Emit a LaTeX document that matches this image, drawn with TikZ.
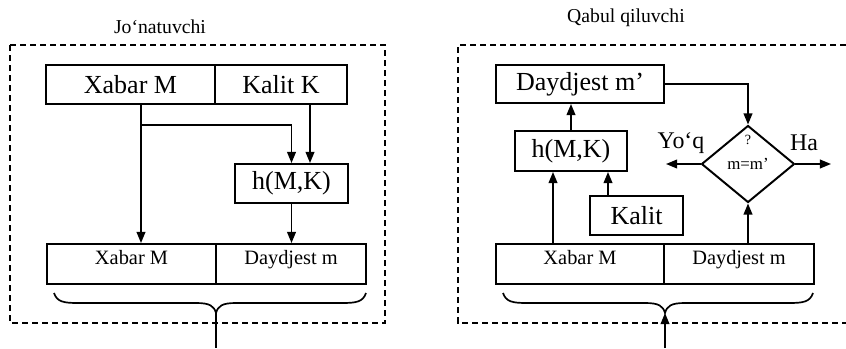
\documentclass[tikz,border=0pt]{standalone}
\usepackage{fontspec}
\setmainfont{Liberation Serif}
\usetikzlibrary{arrows.meta}
\usetikzlibrary{shapes.geometric}
\usetikzlibrary{positioning}

\begin{document}
\begin{tikzpicture}[%
x=0.025cm, y=-0.025cm,
>={Triangle[length=0.28cm, width=0.22cm]},
blok/.style 2 args={draw, line width=1.4pt, inner sep=0, minimum width=#1*0.025cm, minimum height=#2*0.025cm, font=\fontsize{18.5}{20}\selectfont},
pastblok/.style 2 args={blok={#1}{#2}, font=\fontsize{14.5}{16}\selectfont, text height=0.3cm, text depth=0.3cm},
oqim/.style={->, line width=1.2pt},
chegara/.style={dash pattern=on 0.15cm off 0.1cm, line width=1.1pt},
qavs/.style={line width=1.2pt},
sarlavha/.style={font=\fontsize{14}{16}\selectfont},
yozuv/.style={font=\fontsize{17}{19}\selectfont},
]
\useasboundingbox (0,0) rectangle (846,348);

\pgfmathsetmacro{\qavsy}{303}
\pgfmathsetmacro{\qavsuch}{293}

% Jo'natuvchi
\node[sarlavha](jsarl) at (160,27){Jo‘natuvchi};
\draw[chegara] (10,45) rectangle (385,323);

\node[blok={169}{39}](jxab) at (130.5,84.5){Xabar M};
\node[blok={132}{39}](jkal) at (281,84.5){Kalit K};
\node[blok={113}{39}](jhash) at (291.5,183.5){h(M,K)};
\node[pastblok={169}{40}](jbxab) at (131.5,264){Xabar M};
\node[pastblok={150}{40}](jbday) at (291,264){Daydjest m};

\coordinate(jtarm) at (141,125);
\coordinate(jkx) at (310,0);
\draw[oqim] (jxab.south -| jtarm)--(jbxab.north -| jtarm);
\draw[oqim] (jtarm) -| (jhash.north);
\draw[oqim] (jkal.south -| jkx)--(jhash.north -| jkx);
\draw[oqim] (jhash.south)--(jhash.south |- jbday.north);

\coordinate(juch) at (216,313);
\coordinate(jpast) at (216,348);
\draw[qavs] (54,\qavsuch) .. controls (57,\qavsy-1) and (64,\qavsy) .. (78,\qavsy) -- (196,\qavsy)
  .. controls (210,\qavsy) and (214,\qavsy+3) .. (juch)
  .. controls (218,\qavsy+3) and (222,\qavsy) .. (236,\qavsy) -- (342,\qavsy)
  .. controls (356,\qavsy) and (363,\qavsy-1) .. (366,\qavsuch);
\draw[qavs] (juch)--(jpast);

% Qabul qiluvchi
\node[sarlavha](qsarl) at (626,18){Qabul qiluvchi};
\draw[chegara] (846,45)--(458,45)--(458,323)--(846,323);

\node[blok={168}{38}](qday1) at (580,84){Daydjest m'};
\node[blok={112}{40}](qhash) at (571,151){h(M,K)};
\node[blok={93}{39}](qkal) at (636.5,215.5){Kalit};
\node[pastblok={168}{40}](qbxab) at (580,264){Xabar M};
\node[pastblok={150}{40}](qbday) at (739,264){Daydjest m};

\node[draw, diamond, line width=1.4pt, inner sep=0, aspect=1.2,
  minimum width=93*0.025cm, minimum height=77*0.025cm,
  font=\fontsize{12}{13}\selectfont](qsol) at (748,164){m=m'};
\node[font=\fontsize{10}{11}\selectfont, inner sep=0, below=0.25cm of qsol.north](qsavol){?};

\coordinate(qxx) at (553,0);
\coordinate(qkx) at (608,0);
\draw[oqim] (qbxab.north -| qxx)--(qhash.south -| qxx);
\draw[oqim] (qkal.north -| qkx)--(qhash.south -| qkx);
\draw[oqim] (qhash.north)--(qhash.north |- qday1.south);
\draw[oqim] (qday1.east) -| (qsol.north);
\draw[oqim] (qsol.south |- qbday.north)--(qsol.south);

\coordinate(qyoq) at (666,164);
\coordinate(qha) at (831,164);
\draw[oqim] (qsol.west)--(qyoq);
\draw[oqim] (qsol.east)--(qha);
\node[yozuv](qyoqm) at (681,143){Yo‘q};
\node[yozuv](qham) at (804,143){Ha};

\coordinate(quch) at (665,313);
\coordinate(qkir) at (665,348);
\draw[qavs] (503,\qavsuch) .. controls (506,\qavsy-1) and (513,\qavsy) .. (527,\qavsy) -- (645,\qavsy)
  .. controls (659,\qavsy) and (663,\qavsy+3) .. (quch)
  .. controls (667,\qavsy+3) and (671,\qavsy) .. (685,\qavsy) -- (789,\qavsy)
  .. controls (803,\qavsy) and (810,\qavsy-1) .. (813,\qavsuch);
\draw[oqim] (qkir)--(quch);

\end{tikzpicture}
\end{document}
